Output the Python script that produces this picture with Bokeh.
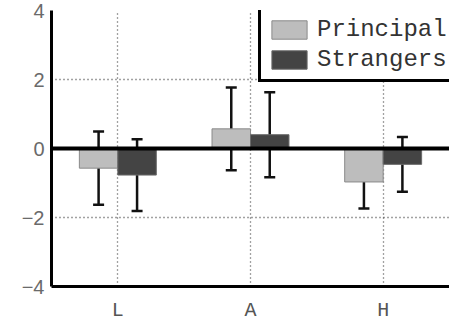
from bokeh.plotting import figure
from bokeh.models import (ColumnDataSource, FactorRange, Range1d, FixedTicker, Span,
                          Whisker, TeeHead, Legend, LegendItem)
from bokeh.transform import dodge
from bokeh.embed import file_html
from bokeh.resources import INLINE

categories = ["L", "A", "H"]
principal = [-0.57, 0.57, -0.97]
strangers = [-0.77, 0.40, -0.46]
principal_err = [1.06, 1.20, 0.77]
strangers_err = [1.04, 1.23, 0.79]
y_ticks = [-4, -2, 0, 2, 4]

src = ColumnDataSource(dict(
    cat=categories,
    p=principal, s=strangers,
    p_lo=[v - e for v, e in zip(principal, principal_err)],
    p_hi=[v + e for v, e in zip(principal, principal_err)],
    s_lo=[v - e for v, e in zip(strangers, strangers_err)],
    s_hi=[v + e for v, e in zip(strangers, strangers_err)],
))

p = figure(width=449, height=324, output_backend="svg", toolbar_location=None,
           x_range=FactorRange(*categories, range_padding=0),
           y_range=Range1d(-4, 4),
           min_border_left=51, min_border_right=0, min_border_top=10, min_border_bottom=34)
p.outline_line_color = None
p.background_fill_color = "white"

bw = 0.29
r1 = p.vbar(x=dodge("cat", -bw / 2, range=p.x_range), top="p", bottom=0, width=bw,
            source=src, fill_color="#bdbdbd", line_color="#8a8a8a", line_width=1)
r2 = p.vbar(x=dodge("cat", bw / 2, range=p.x_range), top="s", bottom=0, width=bw,
            source=src, fill_color="#444444", line_color="#6a6a6a", line_width=1)

for off, lo, hi in [(-bw / 2, "p_lo", "p_hi"), (bw / 2, "s_lo", "s_hi")]:
    w = Whisker(base=dodge("cat", off, range=p.x_range), lower=lo, upper=hi, source=src,
                line_color="#111111", line_width=2.5,
                upper_head=TeeHead(size=11, line_color="#111111", line_width=2.5),
                lower_head=TeeHead(size=11, line_color="#111111", line_width=2.5))
    p.add_layout(w)

p.add_layout(Span(location=0, dimension="width", line_color="black", line_width=4))

p.yaxis.ticker = FixedTicker(ticks=y_ticks)
for ax in (p.xaxis, p.yaxis):
    ax.axis_line_color = "black"
    ax.axis_line_width = 3
    ax.major_tick_line_color = None
    ax.minor_tick_line_color = None
    ax.major_tick_out = 0
    ax.major_tick_in = 0
p.yaxis.major_label_text_font = "Liberation Sans"
p.yaxis.major_label_text_font_size = "20px"
p.yaxis.major_label_text_color = "#6a6a6a"
p.yaxis.major_label_standoff = 7
p.xaxis.major_label_text_font = "Liberation Mono"
p.xaxis.major_label_text_font_size = "20px"
p.xaxis.major_label_text_color = "#555555"
p.xaxis.major_label_standoff = 12

for g in (p.xgrid, p.ygrid):
    g.grid_line_color = "#444444"
    g.grid_line_dash = "1 3"
    g.grid_line_width = 1.3
p.ygrid.ticker = FixedTicker(ticks=y_ticks)

legend = Legend(items=[LegendItem(label="Principal", renderers=[r1]),
                       LegendItem(label="Strangers", renderers=[r2])],
                location=(207, 204), orientation="vertical",
                label_text_font="Liberation Mono", label_text_font_size="24px",
                label_text_color="#333333",
                glyph_width=44, glyph_height=23, label_height=23, label_width=150,
                label_standoff=6, spacing=3, padding=6, margin=0,
                border_line_color="black", border_line_width=3, border_line_alpha=1.0,
                background_fill_alpha=1.0)
p.add_layout(legend)

open("out.html", "w").write(file_html(p, INLINE))
